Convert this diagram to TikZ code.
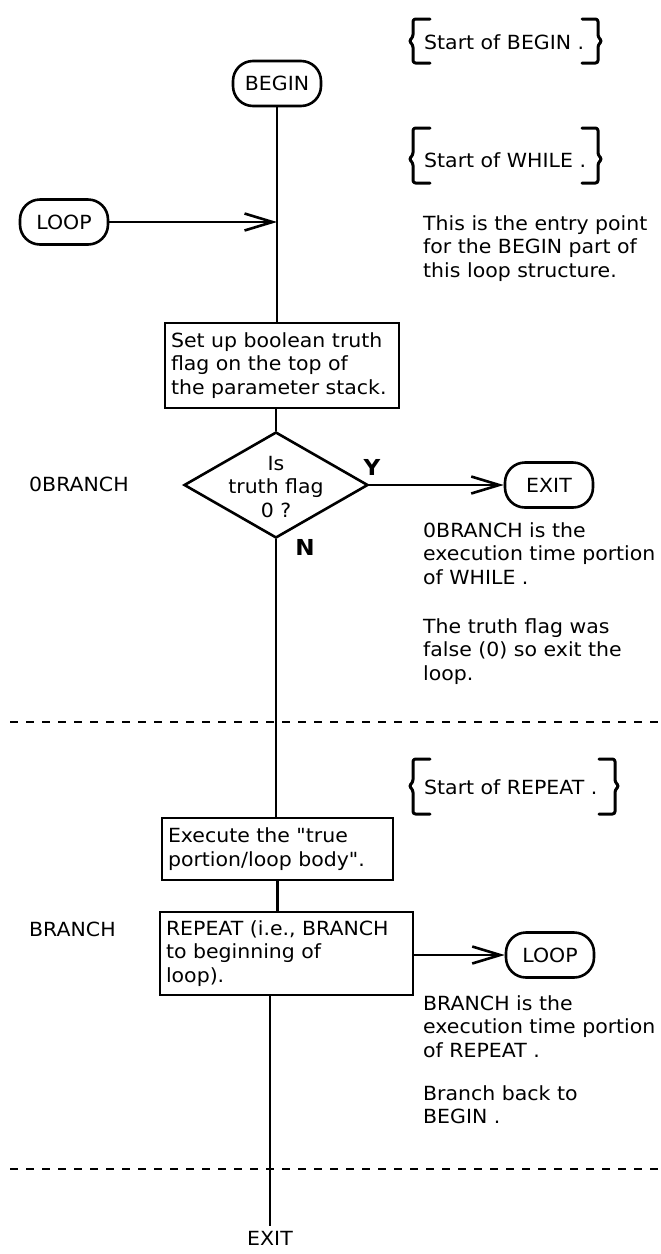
\documentclass[tikz,border=0pt]{standalone}
\usepackage{fontspec}
\setmainfont{DejaVu Sans}[FakeStretch=1.05,Ligatures=TeXOff]
\usetikzlibrary{arrows.meta,shapes.geometric}
\begin{document}
\begin{tikzpicture}[x=1pt,y=-1pt,
  font=\fontsize{19.5}{23.5}\selectfont,
  lw/.style={line width=2.6pt},
  term/.style={draw,lw,rounded corners=20pt,minimum width=88pt,minimum height=45pt,inner sep=0pt},
  proc/.style={draw,lw,inner xsep=6pt,inner ysep=0pt,align=left},
  note/.style={anchor=north west,inner sep=0pt,align=left},
  lab/.style={anchor=west,inner sep=0pt},
  flow/.style={lw},
  arr/.style={lw,-{Straight Barb[length=28pt,width=17pt]}},
  brk/.style={line width=3pt,rounded corners=2.5pt,line cap=round,line join=round},
  sepline/.style={line width=2pt,dash pattern=on 8pt off 8pt},
  yn/.style={font=\fontsize{22}{24}\selectfont\bfseries,inner sep=0pt}
]
\useasboundingbox (0,0) rectangle (661,1254);

% bracketed remarks
\node[lab] (sb) at (424,42) {Start of BEGIN .};
\draw[brk] (430,19) -- (413,19) -- (413,37) -- (409,41) -- (413,45) -- (413,63) -- (430,63);
\draw[brk] (582,19) -- (598,19) -- (598,37) -- (602,41) -- (598,45) -- (598,63) -- (582,63);

\node[lab] (sw) at (424,160) {Start of WHILE .};
\draw[brk] (430,128) -- (413,128) -- (413,155) -- (409,159) -- (413,163) -- (413,183) -- (430,183);
\draw[brk] (582,128) -- (598,128) -- (598,155) -- (602,159) -- (598,163) -- (598,183) -- (582,183);

\node[lab] (sr) at (424,787) {Start of REPEAT .};
\draw[brk] (430,759) -- (413,759) -- (413,782) -- (409,786) -- (413,790) -- (413,814) -- (430,814);
\draw[brk] (599,759) -- (615,759) -- (615,782) -- (619,786) -- (615,790) -- (615,814) -- (599,814);

% flow nodes
\node[term] (begin) at (277,83.5) {BEGIN};
\node[term] (loop1) at (64,222) {LOOP};
\coordinate (j1) at (277,222);
\node[proc,text width=222pt,minimum height=85pt] (setup) at (282,365.5)
  {Set up boolean truth\\flag on the top of\\the parameter stack.};
\node[diamond,draw,lw,minimum width=184pt,minimum height=106pt,inner sep=0pt] (dec) at (276,485) {};
\node[align=center,inner sep=0pt] (dect) at (276,487) {Is\\truth flag\\0 ?};
\node[yn] (yl) at (372,467) {Y};
\node[yn] (nl) at (305,547) {N};
\node[term] (exit1) at (549,485) {EXIT};
\node[lab] (ob) at (29,484) {0BRANCH};

\node[proc,text width=219pt,minimum height=62pt] (exec) at (277.5,849)
  {Execute the "true\\portion/loop body".};
\node[proc,text width=241pt,minimum height=83pt] (rep) at (286.5,953.5)
  {REPEAT (i.e., BRANCH\\to beginning of\\loop).};
\node[lab] (bl) at (29,929) {BRANCH};
\node[term] (loop2) at (550,955) {LOOP};
\node[inner sep=5pt] (exit2) at (270,1238) {EXIT};

% notes
\node[note] (n1) at (423,215) {This is the entry point\\for the BEGIN part of\\this loop structure.};
\node[note] (n2) at (423,522) {0BRANCH is the\\execution time portion\\of WHILE .};
\node[note] (n3) at (423,618) {The truth flag was\\false (0) so exit the\\loop.};
\node[note] (n4) at (423,995) {BRANCH is the\\execution time portion\\of REPEAT .};
\node[note] (n5) at (423,1085) {Branch back to\\BEGIN .};

% separators
\coordinate (d1a) at (10,722);
\coordinate (d1b) at (661,722);
\coordinate (d2a) at (10,1169);
\coordinate (d2b) at (661,1169);
\draw[sepline] (d1a) -- (d1b);
\draw[sepline] (d2a) -- (d2b);

% connectors
\draw[flow] (begin.south) -- (begin.south |- setup.north);
\draw[arr] (loop1.east) -- (j1);
\draw[flow] (setup.south -| dec.north) -- (dec.north);
\draw[arr] (dec.east) -- (exit1.west);
\draw[flow] (dec.south) -- (dec.south |- exec.north);
\draw[flow] (exec.south) -- (exec.south |- rep.north);
\draw[flow] (rep.south -| exit2.north) -- (exit2.north);
\draw[arr] (rep.east |- loop2.west) -- (loop2.west);
\end{tikzpicture}
\end{document}
